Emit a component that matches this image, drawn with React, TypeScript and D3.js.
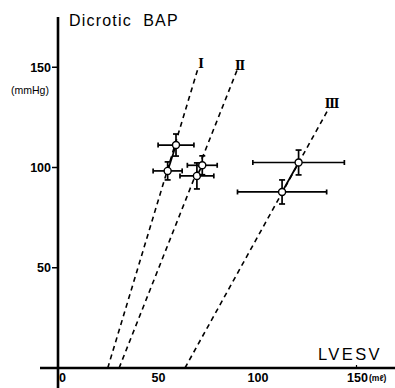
import React from 'react';
import * as d3 from 'd3';

// group means (LVESV ml, dicrotic BAP mmHg) with SD
const groups = ['I', 'II', 'III'];
const groupLabels = ['Ⅰ', 'Ⅱ', 'Ⅲ'];
const lvesv = [[55.1, 59.3], [69.8, 72.5], [112.6, 120.9]];
const bap = [[98.3, 111.2], [95.8, 101.1], [87.8, 102.5]];
const lvesvSd = [[7.3, 9], [8.5, 7.5], [22.4, 23]];
const bapSd = [[4.5, 5.5], [6.5, 4.7], [6, 6.2]];

// regression lines (dashed): start on x axis, end near label
const lineStart = [[25, 0], [30.7, 0], [63.8, 0]];
const lineEnd = [[70.4, 149.6], [90, 148.6], [136.2, 129.7]];

const xTicks = [0, 50, 100, 150];
const yTicks = [50, 100, 150];

const W = 395;
const H = 388;

const App: React.FC = () => {
  const x = d3.scaleLinear().domain([0, 150]).range([58, 356.5]);
  const y = d3.scaleLinear().domain([0, 150]).range([368, 67.25]);
  const font = '"Liberation Sans", Arial, sans-serif';

  return (
    <svg width={W} height={H} style={{ position: 'absolute', left: 0, top: 0, background: '#fff' }}>
      {/* axes */}
      <line x1={x(0)} x2={x(0)} y1={17} y2={H} stroke="#000" strokeWidth={2.6} />
      <line x1={40} x2={W} y1={y(0)} y2={y(0)} stroke="#000" strokeWidth={2.6} />
      {yTicks.map(t => (
        <g key={'y' + t}>
          <line x1={x(0) - 6} x2={x(0)} y1={y(t)} y2={y(t)} stroke="#000" strokeWidth={1.5} />
          <text x={x(0) - 7} y={y(t) + 4.5} textAnchor="end" fontFamily={font} fontSize={12.5} fontWeight="bold">{t}</text>
        </g>
      ))}
      {xTicks.map(t => (
        <text key={'x' + t} x={x(t) + (t === 0 ? 4.5 : 1)} y={382} textAnchor="middle" fontFamily={font} fontSize={12.5} fontWeight="bold">{t}</text>
      ))}
      <line x1={x(150)} x2={x(150)} y1={y(0) - 3} y2={y(0)} stroke="#000" strokeWidth={1.2} />
      <text x={369} y={381} fontFamily={font} fontSize={8.5} fontWeight="bold">(mℓ)</text>

      <text x={69} y={26} fontFamily={font} fontSize={16} letterSpacing={1.2} style={{ whiteSpace: 'pre' }}>Dicrotic  BAP</text>
      <text x={11} y={94} fontFamily={font} fontSize={10.5}>(mmHg)</text>
      <text x={318} y={360} fontFamily={font} fontSize={16.5} letterSpacing={2.4}>LVESV</text>

      {groups.map((g, i) => {
        const pts = lvesv[i].map((v, j) => [x(v), y(bap[i][j])]);
        return (
          <g key={g}>
            <line x1={x(lineStart[i][0])} y1={y(lineStart[i][1])} x2={x(lineEnd[i][0])} y2={y(lineEnd[i][1])}
              stroke="#000" strokeWidth={1.6} strokeDasharray="5,4" />
            <line x1={pts[0][0]} y1={pts[0][1]} x2={pts[1][0]} y2={pts[1][1]} stroke="#000" strokeWidth={1.7} />
            <text x={x(lineEnd[i][0]) + 3} y={y(lineEnd[i][1])} textAnchor="middle"
              fontFamily='"DejaVu Serif", serif' fontSize={12} fontWeight="bold">
              {groupLabels[i]}
            </text>
            {pts.map((p, j) => {
              const x0 = x(lvesv[i][j] - lvesvSd[i][j]);
              const x1 = x(lvesv[i][j] + lvesvSd[i][j]);
              const y0 = y(bap[i][j] - bapSd[i][j]);
              const y1 = y(bap[i][j] + bapSd[i][j]);
              return (
                <g key={j} stroke="#000" strokeWidth={1.7}>
                  <line x1={x0} x2={x1} y1={p[1]} y2={p[1]} />
                  <line x1={x0} x2={x0} y1={p[1] - 2.5} y2={p[1] + 2.5} />
                  <line x1={x1} x2={x1} y1={p[1] - 2.5} y2={p[1] + 2.5} />
                  <line x1={p[0]} x2={p[0]} y1={y0} y2={y1} />
                  <line x1={p[0] - 3} x2={p[0] + 3} y1={y0} y2={y0} />
                  <line x1={p[0] - 3} x2={p[0] + 3} y1={y1} y2={y1} />
                  <circle cx={p[0]} cy={p[1]} r={3.5} fill="#fff" strokeWidth={1.4} />
                </g>
              );
            })}
          </g>
        );
      })}
    </svg>
  );
};

export default App;
